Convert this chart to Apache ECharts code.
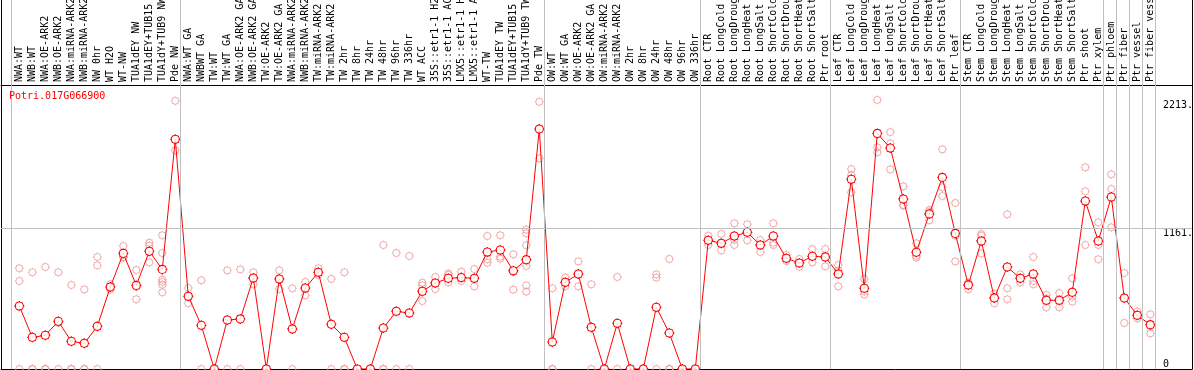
<!DOCTYPE html>
<html>
<head>
<meta charset="utf-8">
<script src="https://cdn.jsdelivr.net/npm/echarts@6/dist/echarts.min.js"></script>
<style>html,body{margin:0;padding:0;background:#fff;}#c{width:1194px;height:370px;}</style>
</head>
<body>
<div id="c"></div>
<script>
const geneName = 'Potri.017G066900';
const categories = ['NWA:WT','NWB:WT','NWA:OE-ARK2','NWB:OE-ARK2','NWA:miRNA-ARK2','NWB:miRNA-ARK2','NW 0hr','WT H2O','WT-NW','TUA1dEY NW','TUA1dEY+TUB15','TUA1dY+TUB9 NW','Pde NW',
'NWA:WT GA','NWBWT GA','TW:WT','TW:WT GA','NWA:OE-ARK2 GA','NWB:OE-ARK2 GA','TW:OE-ARK2','TW:OE-ARK2 GA','NWA:miRNA-ARK2','NWB:miRNA-ARK2','TW:miRNA-ARK2','TW:miRNA-ARK2','TW 2hr','TW 8hr','TW 24hr','TW 48hr','TW 96hr','TW 336hr','WT ACC','35S::etr1-1 H2','35S::etr1-1 AC','LMX5::etr1-1 H','LMX5::etr1-1 A','WT-TW','TUA1dEY TW','TUA1dEY+TUB15','TUA1dY+TUB9 TW','Pde TW',
'OW:WT','OW:WT GA','OW:OE-ARK2','OW:OE-ARK2 GA','OW:miRNA-ARK2','OW:miRNA-ARK2','OW 2hr','OW 8hr','OW 24hr','OW 48hr','OW 96hr','OW 336hr',
'Root CTR','Root LongCold','Root LongDroug','Root LongHeat','Root LongSalt','Root ShortCold','Root ShortDrou','Root ShortHeat','Root ShortSalt','Ptr root',
'Leaf CTR','Leaf LongCold','Leaf LongDroug','Leaf LongHeat','Leaf LongSalt','Leaf ShortCold','Leaf ShortDrou','Leaf ShortHeat','Leaf ShortSalt','Ptr leaf',
'Stem CTR','Stem LongCold','Stem LongDroug','Stem LongHeat','Stem LongSalt','Stem ShortCold','Stem ShortDrou','Stem ShortHeat','Stem ShortSalt','Ptr shoot','Ptr xylem',
'Ptr phloem','Ptr fiber','Ptr vessel','Ptr fiber vessel'];

const means = [520,261,278,393,228,212,352,677,954,690,971,822,1895,
600,360,0,404,413,751,0,743,330,668,798,369,261,0,0,338,476,462,641,710,748,754,748,965,982,811,902,1980,
223,715,784,344,0,377,0,0,509,297,0,0,
1062,1037,1097,1128,1023,1097,913,875,930,924,
784,1565,666,1944,1823,1403,963,1279,1581,1119,
693,1056,586,842,748,784,567,567,633,1386,1056,
1419,586,443,366];

const replicates = [
[831,726,0],[798,0,0],[842,0,0],[798,381,0],[693,0,0],[657,0,0],[924,855,0],[700,677,655],[1015,927,920],[817,678,575],[1042,1018,880],[1103,957,737,718,696,633],[2213,1895,1804],
[668,600,542],[732,0],[0,0],[814,0],[822,0],[798,751,699],[0,0],[814,743,660],[666,0],[718,668,608],[831,798,776],[743,0],[798,0,0],[0,0],[0,0],[1023,0,0],[957,0],[932,0],[712,690,561],[759,710,660],[787,776,715],[803,754,726],[825,748,682],[1097,905,877],[1103,927,910],[946,800,655],[1150,1119,1020,850,690,638],[2205,1980,1738],
[666,0,0],[754,715,682],[888,784,682],[699,0],[0,0],[759,0],[0,0],[0,0],[781,754,0],[908,0,0],[0,0],[0,0],
[1100,1062,1023],[1114,1037,979],[1202,1066,1023],[1194,1128,1062],[1064,1023,965],[1202,1042,1023],[941,913,891],[908,875,844],[990,930,880],[990,935,847],
[858,812,682],[1650,1601,1458],[743,640,616],[2220,1829,1788],[1955,1862,1647],[1507,1353,1349],[1037,933,919],[1312,1298,1227],[1812,1499,1427],[1370,1100,888],
[712,710,657],[1114,1100,954],[622,594,542],[1276,666,575],[781,748,715],[924,726,699],[611,581,509],[627,565,509],[748,595,556],[1664,1466,1023],[1210,1023,905],
[1606,1485,1169],[792,586,380],[473,445,418],[451,353,294]];

// last category index of each group (-1 = start)
const groupEnds = [-1,12,40,52,62,72,83,84,85,86,87];
const yTickLabels = [1161, 2213];
const yZeroLabel = [0];

const mono = '"DejaVu Sans Mono", monospace';
const gear = 'path://M8.6 5A3.6 3.6 0 1 1 1.4 5A3.6 3.6 0 1 1 8.6 5Z M5 0.4L5 1.4M5 8.6L5 9.6M0.4 5L1.4 5M8.6 5L9.6 5M1.9 1.9L2.5 2.5M8.1 1.9L7.5 2.5M1.9 8.1L2.5 7.5M8.1 8.1L7.5 7.5';

const repData = [];
replicates.forEach((arr, i) => arr.forEach(v => repData.push([i, v])));
const meanData = means.map((v, i) => [i, v]);

const X_MIN = -1.4077, X_MAX = 90.208, Y_MAX = 3044.8;

const chart = echarts.init(document.getElementById('c'), null, {renderer: 'canvas'});
chart.setOption({
  animation: false,
  backgroundColor: '#fff',
  title: {text: geneName, left: 9, top: 91, padding: 0,
    textStyle: {color: '#ff0000', fontFamily: mono, fontSize: 10, fontWeight: 'normal'}},
  grid: {left: 1, right: 2, top: 0, bottom: 1, containLabel: false, outerBoundsMode: 'none'},
  xAxis: [
    {type: 'value', min: X_MIN, max: X_MAX, position: 'bottom',
     axisLine: {show: true, onZero: false, lineStyle: {color: '#000', width: 1}},
     axisTick: {show: false}, axisLabel: {show: false}, splitLine: {show: false}},
    {type: 'value', min: X_MIN, max: X_MAX, position: 'top', offset: -85,
     axisLine: {show: true, onZero: false, lineStyle: {color: '#000', width: 1}},
     axisTick: {show: false}, splitLine: {show: false},
     axisLabel: {show: true, rotate: -90, margin: 3, customValues: categories.map((c, i) => i),
       formatter: v => categories[Math.round(v)] || '', color: '#000', fontFamily: mono, fontSize: 10}}
  ],
  yAxis: [
    {type: 'value', min: 0, max: Y_MAX, position: 'left',
     axisLine: {show: true, onZero: false, lineStyle: {color: '#000'}}, axisTick: {show: false},
     axisLabel: {show: false}, splitLine: {show: false}},
    {type: 'value', min: 0, max: Y_MAX, position: 'right',
     axisLine: {show: true, onZero: false, lineStyle: {color: '#000'}}, axisTick: {show: false},
     splitLine: {show: false},
     axisLabel: {show: true, customValues: yTickLabels, formatter: v => Math.round(v) + '.', margin: -29, align: 'left',
       verticalAlign: 'top', color: '#000', fontFamily: mono, fontSize: 10}},
    {type: 'value', min: 0, max: Y_MAX, position: 'right',
     axisLine: {show: false}, axisTick: {show: false}, splitLine: {show: false},
     axisLabel: {show: true, customValues: yZeroLabel, formatter: v => String(Math.round(v)), margin: -29, align: 'left',
       verticalAlign: 'bottom', color: '#000', fontFamily: mono, fontSize: 10}}
  ],
  series: [
    {type: 'scatter', name: 'guides', data: [], silent: true, z: 1,
     markLine: {silent: true, symbol: 'none', animation: false, label: {show: false},
       lineStyle: {color: '#c0c0c0', type: 'solid', width: 1},
       data: groupEnds.map(e => ({xAxis: e + 0.37})).concat([{yAxis: 1161}])}},
    {type: 'scatter', name: 'replicates', data: repData, symbol: gear, symbolSize: 9, z: 2,
     itemStyle: {color: 'rgba(0,0,0,0)', borderColor: '#f09a9a', borderWidth: 1}},
    {type: 'line', name: 'mean', data: meanData, symbol: gear, symbolSize: 10, showSymbol: true, z: 3,
     lineStyle: {color: '#ff0000', width: 1},
     itemStyle: {color: 'rgba(0,0,0,0)', borderColor: '#ff0000', borderWidth: 1.3}},
    {type: 'scatter', name: 'meanInner', data: meanData, symbol: 'emptyCircle', symbolSize: 5, z: 4,
     itemStyle: {color: '#fff', borderColor: '#000', borderWidth: 1}}
  ]
});
</script>
</body>
</html>
